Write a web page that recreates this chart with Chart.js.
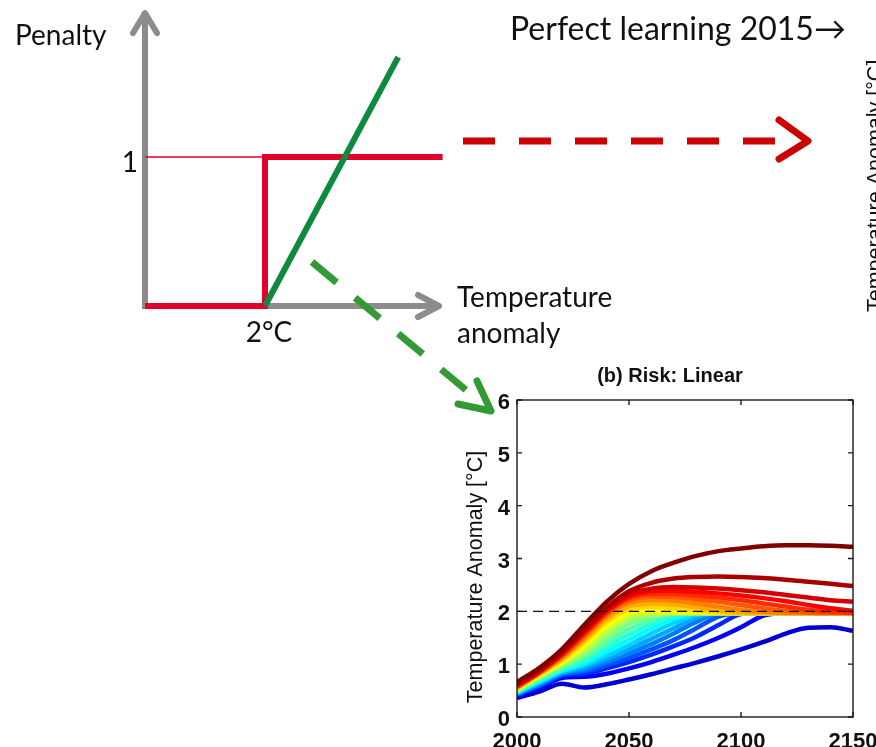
<!DOCTYPE html>
<html>
<head>
<meta charset="utf-8">
<script src="https://cdn.jsdelivr.net/npm/chart.js@4.4.1/dist/chart.umd.min.js"></script>
<style>
  html, body { margin: 0; padding: 0; background: #ffffff; }
  #wrap { position: relative; width: 876px; height: 747px; overflow: hidden; }
  #wrap canvas { position: absolute; left: 0; top: 0; }
</style>
</head>
<body>
<div id="wrap">
  <canvas id="penalty" width="876" height="747"></canvas>
  <canvas id="risk" width="876" height="747"></canvas>
</div>
<script>
// ---------- Penalty functions (temperature anomaly °C -> penalty) ----------
const stepTemps      = [0, 2, 2, 4.96];
const stepPenalty    = [0, 0, 1, 1];
const unitLineTemps  = [0, 2];
const unitLinePenalty= [1, 1];
const linearTemps    = [2, 4.22];
const linearPenalty  = [0, 1.67];
const penaltyTicks   = [1];
const thresholdTicks = [2];

// ---------- Temperature pathways, 2000-2150 ----------
const years     = [2000, 2010, 2020, 2030, 2040, 2050, 2060, 2070, 2080, 2090, 2100, 2110, 2120, 2130, 2140, 2150];
const yearTicks = [2000, 2050, 2100, 2150];
const tempTicks = [0, 1, 2, 3, 4, 5, 6];
const guardrail = 2;

const path00 = [0.36, 0.48, 0.63, 0.56, 0.62, 0.71, 0.81, 0.92, 1.03, 1.15, 1.28, 1.42, 1.58, 1.69, 1.70, 1.63];
const path01 = [0.40, 0.55, 0.74, 0.76, 0.82, 0.92, 1.04, 1.18, 1.33, 1.50, 1.70, 1.92, 1.97, 1.97, 1.97, 1.97];
const path02 = [0.42, 0.58, 0.78, 0.82, 0.92, 1.04, 1.18, 1.34, 1.52, 1.74, 1.95, 1.97, 1.97, 1.97, 1.97, 1.97];
const path03 = [0.43, 0.60, 0.80, 0.86, 0.98, 1.12, 1.28, 1.46, 1.68, 1.90, 1.97, 1.97, 1.97, 1.97, 1.97, 1.97];
const path04 = [0.44, 0.62, 0.82, 0.90, 1.04, 1.20, 1.38, 1.58, 1.80, 1.96, 1.97, 1.97, 1.97, 1.97, 1.97, 1.97];
const path05 = [0.45, 0.64, 0.84, 0.94, 1.10, 1.28, 1.48, 1.68, 1.88, 1.97, 1.97, 1.97, 1.97, 1.97, 1.97, 1.97];
const path06 = [0.46, 0.66, 0.86, 0.98, 1.16, 1.36, 1.58, 1.78, 1.93, 1.97, 1.97, 1.97, 1.97, 1.97, 1.97, 1.97];
const path07 = [0.47, 0.68, 0.88, 1.02, 1.24, 1.46, 1.68, 1.86, 1.96, 1.97, 1.97, 1.97, 1.97, 1.97, 1.97, 1.97];
const path08 = [0.48, 0.70, 0.90, 1.07, 1.32, 1.56, 1.76, 1.92, 1.97, 1.97, 1.97, 1.97, 1.97, 1.97, 1.97, 1.97];
const path09 = [0.49, 0.72, 0.93, 1.12, 1.40, 1.66, 1.84, 1.96, 1.97, 1.97, 1.97, 1.97, 1.97, 1.97, 1.97, 1.97];
const path10 = [0.50, 0.74, 0.96, 1.18, 1.49, 1.76, 1.90, 1.97, 1.97, 1.97, 1.97, 1.97, 1.97, 1.97, 1.97, 1.97];
const path11 = [0.51, 0.76, 0.99, 1.24, 1.58, 1.85, 1.94, 1.97, 1.97, 1.97, 1.97, 1.97, 1.97, 1.97, 1.97, 1.97];
const path12 = [0.52, 0.78, 1.02, 1.30, 1.66, 1.92, 1.98, 1.97, 1.97, 1.97, 1.97, 1.97, 1.97, 1.97, 1.97, 1.97];
const path13 = [0.53, 0.80, 1.04, 1.36, 1.72, 1.97, 2.02, 2.00, 1.98, 1.97, 1.97, 1.97, 1.97, 1.97, 1.97, 1.97];
const path14 = [0.54, 0.81, 1.07, 1.41, 1.80, 2.04, 2.08, 2.06, 2.02, 1.98, 1.97, 1.97, 1.97, 1.97, 1.97, 1.97];
const path15 = [0.55, 0.82, 1.10, 1.46, 1.86, 2.10, 2.15, 2.13, 2.08, 2.02, 1.98, 1.97, 1.97, 1.97, 1.97, 1.97];
const path16 = [0.56, 0.83, 1.13, 1.50, 1.91, 2.16, 2.22, 2.20, 2.15, 2.09, 2.03, 1.99, 1.97, 1.97, 1.97, 1.97];
const path17 = [0.57, 0.84, 1.15, 1.54, 1.95, 2.21, 2.28, 2.27, 2.23, 2.18, 2.12, 2.06, 2.01, 1.98, 1.97, 1.97];
const path18 = [0.58, 0.85, 1.17, 1.57, 1.98, 2.25, 2.33, 2.33, 2.30, 2.26, 2.21, 2.15, 2.09, 2.03, 1.99, 1.97];
const path19 = [0.59, 0.86, 1.19, 1.60, 2.00, 2.28, 2.38, 2.39, 2.37, 2.34, 2.30, 2.25, 2.19, 2.12, 2.06, 2.01];
const path20 = [0.60, 0.87, 1.21, 1.63, 2.03, 2.32, 2.43, 2.46, 2.45, 2.43, 2.40, 2.36, 2.31, 2.26, 2.21, 2.18];
const path21 = [0.62, 0.90, 1.24, 1.66, 2.07, 2.38, 2.54, 2.62, 2.65, 2.66, 2.65, 2.63, 2.60, 2.56, 2.52, 2.48];
const path22 = [0.66, 0.93, 1.28, 1.74, 2.18, 2.52, 2.76, 2.92, 3.05, 3.14, 3.19, 3.23, 3.25, 3.25, 3.24, 3.22];

const paths = [path00, path01, path02, path03, path04, path05, path06, path07, path08, path09, path10, path11,
               path12, path13, path14, path15, path16, path17, path18, path19, path20, path21, path22];

// ---------- helpers ----------
const toPoints = (xs, ys) => xs.map((v, i) => ({ x: v, y: ys[i] }));

// MATLAB-style "jet" colour map
function jet(t) {
  const c = v => Math.round(255 * Math.max(0, Math.min(1, v)));
  return `rgb(${c(1.5 - Math.abs(4 * t - 3))},${c(1.5 - Math.abs(4 * t - 2))},${c(1.5 - Math.abs(4 * t - 1))})`;
}

const SANS = '"Liberation Sans", Arial, sans-serif';
const HUMAN = 'Lato, "Open Sans", sans-serif';
const RED = '#e3002b';
const GREEN = '#0d8a3d';
const GREY = '#8c8c8c';

// ---------- schematic: penalty vs temperature ----------
function dashedArrow(ctx, x0, y0, x1, y1, tip, armA, armB, color) {
  ctx.save();
  ctx.strokeStyle = color;
  ctx.lineWidth = 7;
  ctx.lineCap = 'butt';
  ctx.setLineDash([32, 24]);
  ctx.beginPath();
  ctx.moveTo(x0, y0);
  ctx.lineTo(x1, y1);
  ctx.stroke();
  ctx.setLineDash([]);
  ctx.lineCap = 'round';
  ctx.lineJoin = 'round';
  ctx.beginPath();
  ctx.moveTo(armA[0], armA[1]);
  ctx.lineTo(tip[0], tip[1]);
  ctx.lineTo(armB[0], armB[1]);
  ctx.stroke();
  ctx.restore();
}

const schematicDecor = {
  id: 'schematicDecor',
  beforeDatasetsDraw(chart) {
    const { ctx, scales: { x, y } } = chart;
    const x0 = x.getPixelForValue(0), y0 = y.getPixelForValue(0);
    const yTop = y.getPixelForValue(1.966), xEnd = x.getPixelForValue(4.9);
    ctx.save();
    ctx.strokeStyle = GREY;
    ctx.lineWidth = 6;
    ctx.lineCap = 'butt';
    ctx.beginPath();
    ctx.moveTo(x0, y0 + 3); ctx.lineTo(x0, yTop + 2);
    ctx.moveTo(x0 - 3, y0); ctx.lineTo(xEnd - 2, y0);
    ctx.stroke();
    ctx.lineCap = 'round';
    ctx.lineJoin = 'round';
    ctx.beginPath();
    ctx.moveTo(x0 - 12, yTop + 20); ctx.lineTo(x0, yTop); ctx.lineTo(x0 + 12, yTop + 20);
    ctx.moveTo(xEnd - 21, y0 - 11); ctx.lineTo(xEnd, y0); ctx.lineTo(xEnd - 21, y0 + 11);
    ctx.stroke();
    ctx.restore();
  },
  afterDatasetsDraw(chart) {
    const { ctx } = chart;
    // arrows leading to the two outcome panels
    dashedArrow(ctx, 463, 141, 775, 141, [808, 141], [779, 120], [779, 159], '#cc0000');
    dashedArrow(ctx, 312, 262, 466, 390, [491, 411], [477, 381], [458, 404], '#339a35');

    ctx.save();
    ctx.fillStyle = '#111';
    ctx.textAlign = 'left';
    ctx.textBaseline = 'alphabetic';
    ctx.font = `28px ${HUMAN}`;
    ctx.fillText('Penalty', 15, 45);
    ctx.fillText('Temperature', 457, 307);
    ctx.fillText('anomaly', 457, 343);
    ctx.font = `32px ${HUMAN}`;
    ctx.fillText('Perfect learning 2015\u2192', 510, 40);
    // axis title of the neighbouring panel, cut by the page edge
    ctx.translate(882, 312);
    ctx.rotate(-Math.PI / 2);
    ctx.font = `21.5px ${SANS}`;
    ctx.fillText('Temperature Anomaly [\u00B0C]', 0, 0);
    ctx.restore();
  }
};

new Chart(document.getElementById('penalty'), {
  type: 'line',
  data: {
    datasets: [
      { data: toPoints(linearTemps, linearPenalty), borderColor: GREEN, borderWidth: 6, order: 0 },
      { data: toPoints(stepTemps, stepPenalty), borderColor: RED, borderWidth: 6, borderJoinStyle: 'miter', order: 1 },
      { data: toPoints(unitLineTemps, unitLinePenalty), borderColor: RED, borderWidth: 1.5, order: 2 }
    ].map(d => Object.assign(d, { pointRadius: 0, tension: 0, clip: false, borderCapStyle: 'butt' }))
  },
  options: {
    responsive: false,
    animation: false,
    events: [],
    layout: { padding: { left: 105, right: 431, top: 8, bottom: 401 } },
    plugins: { legend: { display: false }, tooltip: { enabled: false } },
    scales: {
      x: {
        type: 'linear', min: 0, max: 5,
        grid: { display: false, drawTicks: false }, border: { display: false },
        afterBuildTicks: s => { s.ticks = thresholdTicks.map(v => ({ value: v })); },
        afterFit: s => { s.height = 40; s.paddingLeft = 0; s.paddingRight = 0; },
        ticks: { padding: 10, labelOffset: 4, color: '#111', font: { family: HUMAN, size: 28 },
                 callback: v => `${v}\u00B0C` }
      },
      y: {
        type: 'linear', min: 0, max: 2,
        grid: { display: false, drawTicks: false }, border: { display: false },
        afterBuildTicks: s => { s.ticks = penaltyTicks.map(v => ({ value: v })); },
        afterFit: s => { s.width = 40; s.paddingTop = 0; s.paddingBottom = 0; },
        ticks: { padding: 7, labelOffset: 6, color: '#111', font: { family: HUMAN, size: 28 },
                 callback: v => String(v) }
      }
    }
  },
  plugins: [schematicDecor]
});

// ---------- panel (b): temperature pathways under linear risk ----------
const riskFrame = {
  id: 'riskFrame',
  afterDraw(chart) {
    const { ctx, chartArea: a, scales: { x, y } } = chart;
    ctx.save();
    ctx.strokeStyle = '#1a1a1a';
    ctx.lineWidth = 1.4;
    ctx.strokeRect(a.left, a.top, a.right - a.left, a.bottom - a.top);
    ctx.beginPath();
    for (const v of tempTicks) {
      const py = y.getPixelForValue(v);
      ctx.moveTo(a.left, py); ctx.lineTo(a.left + 5, py);
      ctx.moveTo(a.right, py); ctx.lineTo(a.right - 5, py);
    }
    for (const v of yearTicks) {
      const px = x.getPixelForValue(v);
      ctx.moveTo(px, a.bottom); ctx.lineTo(px, a.bottom - 5);
      ctx.moveTo(px, a.top); ctx.lineTo(px, a.top + 5);
    }
    ctx.stroke();

    ctx.fillStyle = '#111';
    ctx.font = `bold 20px ${SANS}`;
    ctx.textAlign = 'center';
    ctx.textBaseline = 'middle';
    ctx.fillText('(b) Risk: Linear', 670, 376);

    ctx.translate(482, 577);
    ctx.rotate(-Math.PI / 2);
    ctx.font = `21.5px ${SANS}`;
    ctx.textBaseline = 'alphabetic';
    ctx.fillText('Temperature Anomaly [\u00B0C]', 0, 0);
    ctx.restore();
  }
};

const pathSets = paths.map((p, i) => ({
  data: toPoints(years, p),
  borderColor: jet(0.08 + 0.92 * i / (paths.length - 1)),
  borderWidth: 4.5,
  pointRadius: 0,
  cubicInterpolationMode: 'monotone',
  borderCapStyle: 'butt',
  order: paths.length - i
}));

const guardrailSet = {
  data: toPoints([years[0], years[years.length - 1]], [guardrail, guardrail]),
  borderColor: '#111',
  borderWidth: 1.3,
  borderDash: [10, 6],
  pointRadius: 0,
  order: 0
};

new Chart(document.getElementById('risk'), {
  type: 'line',
  data: { datasets: [...pathSets, guardrailSet] },
  options: {
    responsive: false,
    animation: false,
    events: [],
    layout: { padding: { left: 477, right: 23, top: 400, bottom: 0 } },
    plugins: { legend: { display: false }, tooltip: { enabled: false } },
    scales: {
      x: {
        type: 'linear', min: 2000, max: 2150,
        grid: { display: false, drawTicks: false }, border: { display: false },
        afterBuildTicks: s => { s.ticks = yearTicks.map(v => ({ value: v })); },
        afterFit: s => { s.height = 30; s.paddingLeft = 0; s.paddingRight = 0; },
        ticks: { padding: 12, color: '#111', maxRotation: 0, autoSkip: false,
                 font: { family: SANS, size: 22, weight: 'bold' }, callback: v => String(v) }
      },
      y: {
        type: 'linear', min: 0, max: 6,
        grid: { display: false, drawTicks: false }, border: { display: false },
        afterBuildTicks: s => { s.ticks = tempTicks.map(v => ({ value: v })); },
        afterFit: s => { s.width = 40; s.paddingTop = 0; s.paddingBottom = 0; },
        ticks: { padding: 7, labelOffset: 3, color: '#111', font: { family: SANS, size: 22, weight: 'bold' },
                 callback: v => String(v) }
      }
    }
  },
  plugins: [riskFrame]
});
</script>
</body>
</html>
